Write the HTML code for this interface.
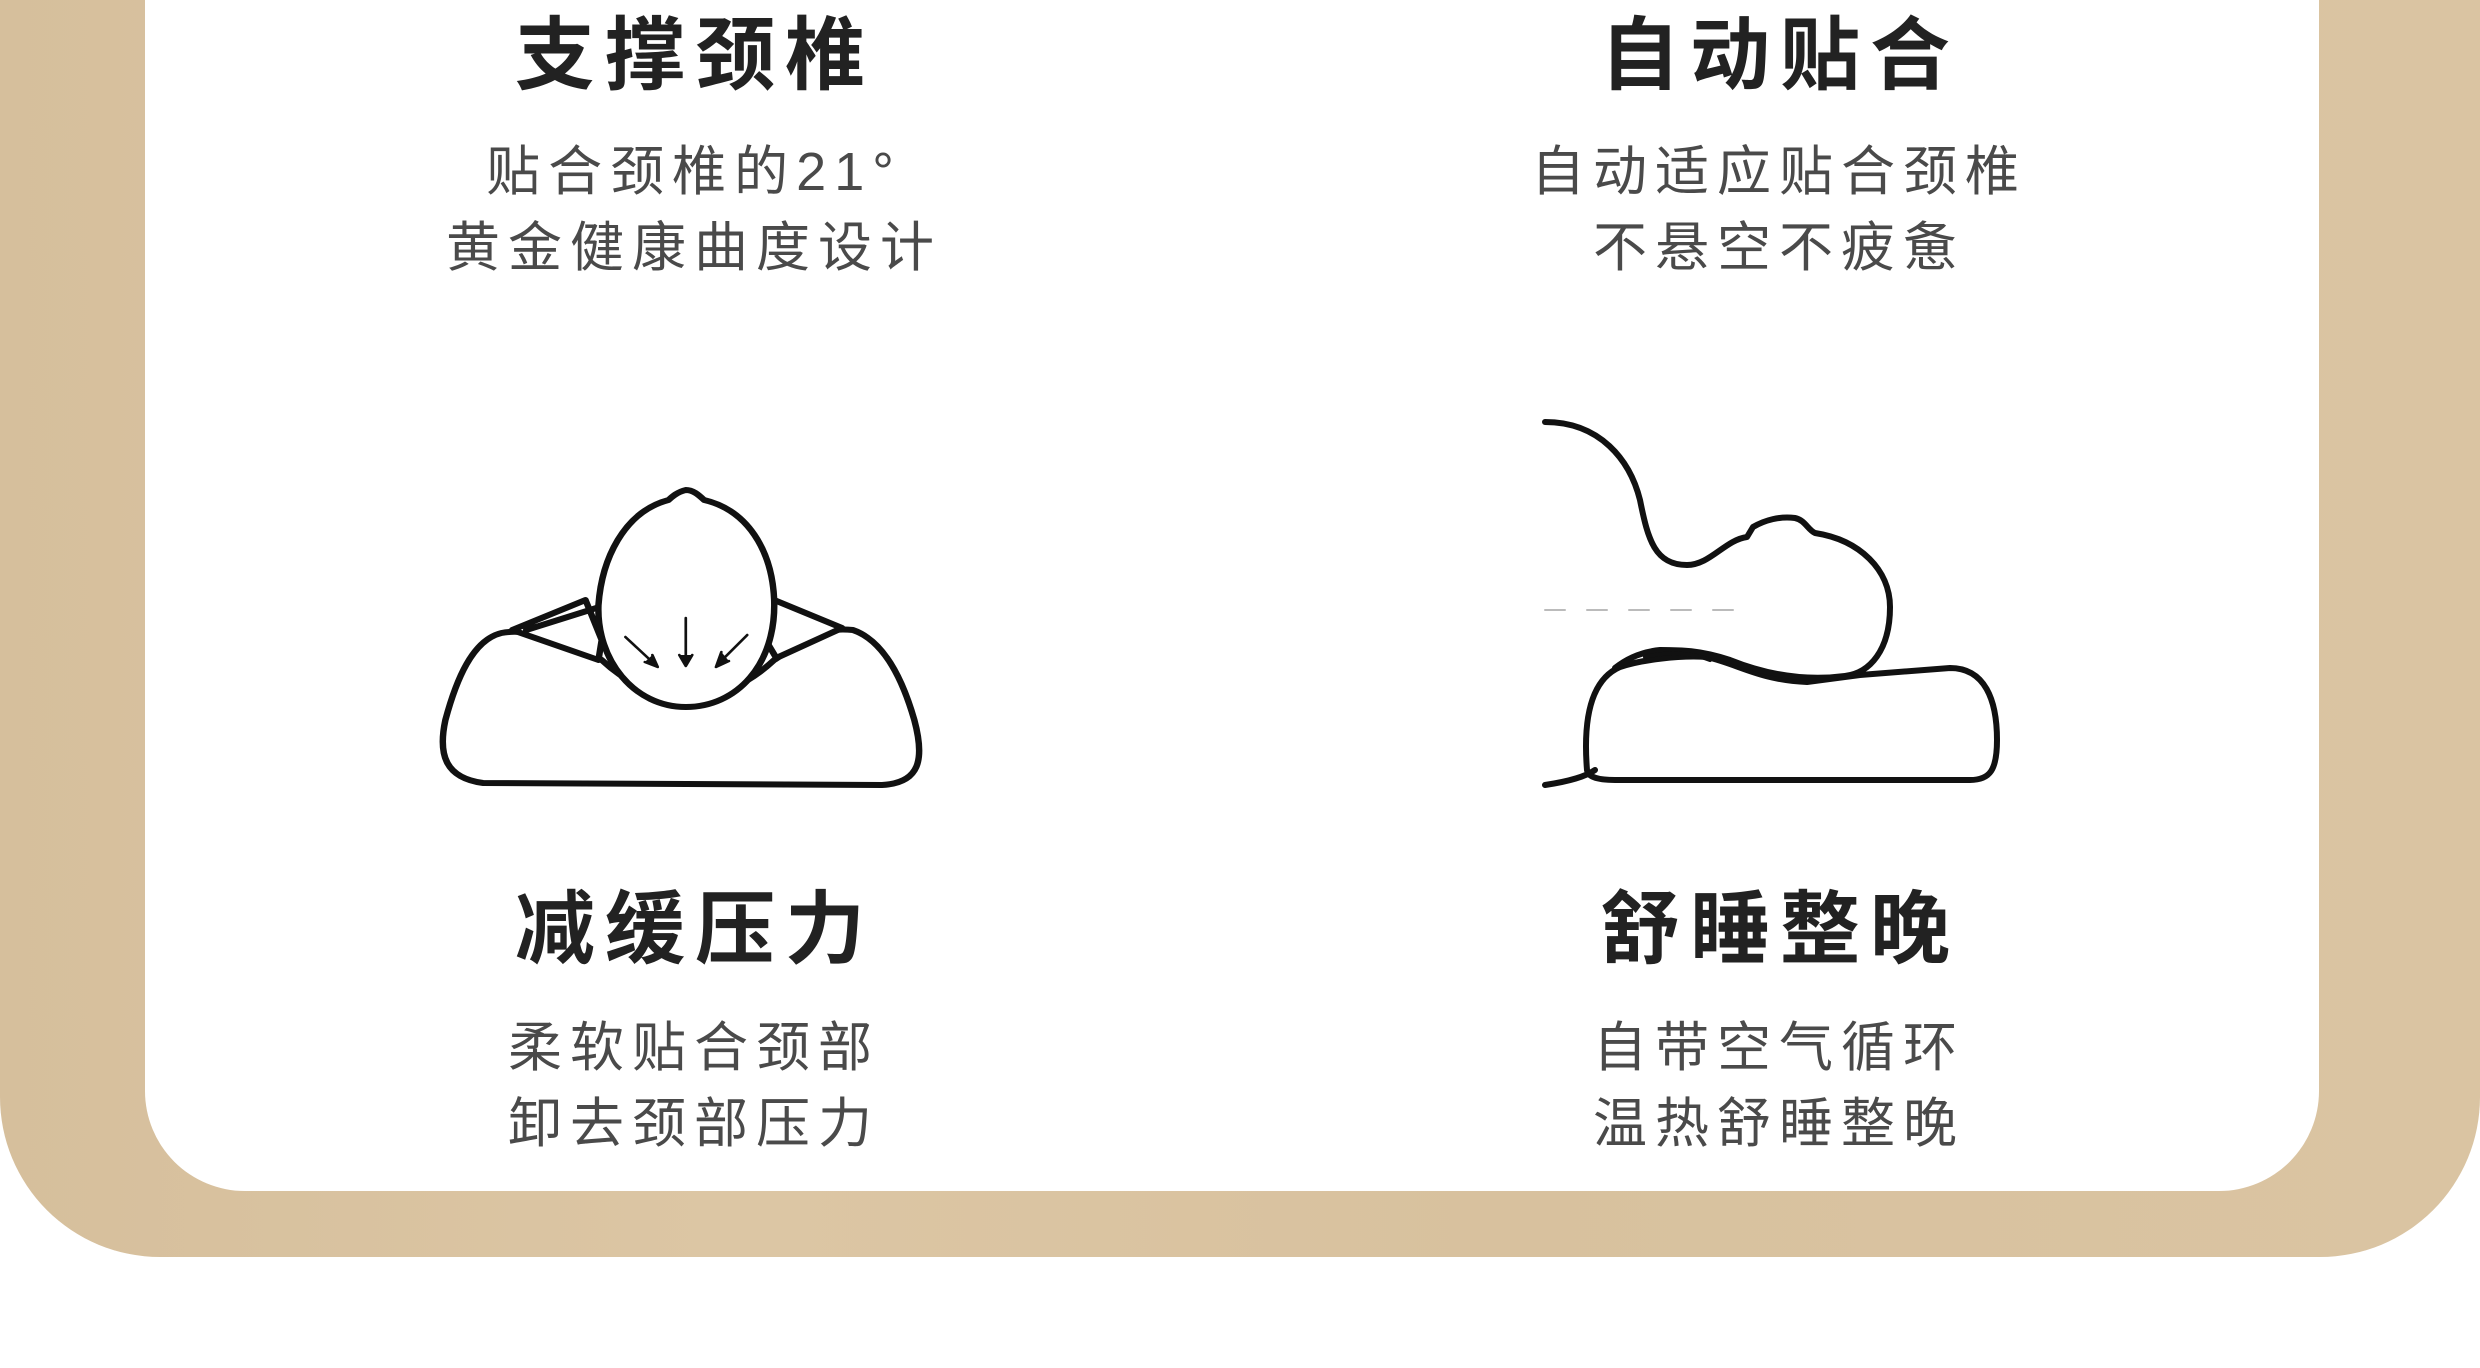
<!DOCTYPE html>
<html><head><meta charset="utf-8"><style>
html,body{margin:0;padding:0;background:#fff;}
body{width:2480px;height:1368px;overflow:hidden;position:relative;font-family:"Liberation Sans","Noto Sans CJK SC",sans-serif;}
.wood{position:absolute;left:0;top:0;width:2480px;height:1257px;background:linear-gradient(90deg,#d6bf9c,#dcc6a4 30%,#d8c19e 60%,#dac4a2);border-radius:0 0 160px 160px;}
.card{position:absolute;left:145px;top:-100px;width:2174px;height:1291px;background:#fff;border-radius:100px;}
.t{position:absolute;width:800px;text-align:center;color:#222;font-weight:bold;font-size:80px;line-height:1;letter-spacing:10px;padding-left:10px;box-sizing:border-box;}
.s{position:absolute;width:800px;text-align:center;color:#4a4a4a;font-size:54px;line-height:76px;letter-spacing:8px;padding-left:8px;box-sizing:border-box;}
svg{position:absolute;left:0;top:0;}
</style></head><body>
<div class="wood"></div>
<div class="card"></div>
<div class="t" style="left:290px;top:16px">支撑颈椎</div>
<div class="s" style="left:290px;top:134px">贴合颈椎的21°<br>黄金健康曲度设计</div>
<div class="t" style="left:1375px;top:16px">自动贴合</div>
<div class="s" style="left:1375px;top:134px">自动适应贴合颈椎<br>不悬空不疲惫</div>
<div class="t" style="left:290px;top:890px">减缓压力</div>
<div class="s" style="left:290px;top:1010px">柔软贴合颈部<br>卸去颈部压力</div>
<div class="t" style="left:1375px;top:890px">舒睡整晚</div>
<div class="s" style="left:1375px;top:1010px">自带空气循环<br>温热舒睡整晚</div>
<svg width="2480" height="1368" viewBox="0 0 2480 1368" fill="none" stroke="#111" stroke-width="6" stroke-linejoin="round" stroke-linecap="round">
<g transform="translate(440,0) scale(1.078,1) translate(-440,0)">
<!-- left pillow -->
<path d="M497,633 C470,640 455,680 445,720 C438,755 445,778 480,783 L850,785 C885,783 890,760 880,720 C868,675 850,640 823,630 C780,625 760,655 750,660 C700,710 640,710 590,660 C560,640 520,628 497,633 Z" fill="#fff"/>
<path d="M507,630 L575,600 L590,640 L587,660 Z M520,630 L585,608" fill="#fff"/>
<path d="M813,628 L750,600 L742,640 L752,658 Z" fill="#fff"/>
<path d="M668,490 C660,492 655,497 652,500 C610,512 590,560 587,605 C585,660 620,707 668,707 C715,707 752,665 750,600 C748,550 725,510 685,500 C680,495 675,490 668,490 Z" fill="#fff"/>
<g stroke-width="2.5">
<path d="M612,637 L640,665 M668,618 L668,663 M725,635 L698,664"/>
<path d="M630,662 L642,667 L637,655 M662,655 L668,666 L674,655 M701,652 L696,667 L708,661" fill="#111"/>
</g>
</g>
<!-- right illustration -->
<path d="M1587,770 C1583,720 1590,680 1620,667 C1640,660 1680,655 1707,657 C1740,665 1760,680 1807,682 L1860,675 L1950,668 C1985,668 1997,700 1997,740 C1997,770 1990,780 1970,780 L1615,780 C1595,780 1588,776 1587,770 Z" fill="#fff"/>
<path d="M1545,422 C1600,422 1630,460 1640,500 C1648,540 1655,565 1687,565 C1710,565 1725,540 1747,537 L1753,527 C1765,520 1780,516 1795,518 C1805,520 1808,530 1815,533 C1860,540 1890,570 1890,607 C1890,650 1870,673 1845,676 C1800,682 1760,672 1730,660 C1700,650 1680,650 1660,650 C1640,652 1625,660 1615,668" fill="#fff"/>
<path d="M1645,657 C1665,652 1690,652 1710,660" stroke-width="4"/>
<path d="M1545,785 C1565,782 1585,777 1595,770"/>
<path d="M1545,610 L1740,610" stroke="#bbb" stroke-width="2" stroke-dasharray="20,22"/>
</svg>
</body></html>
